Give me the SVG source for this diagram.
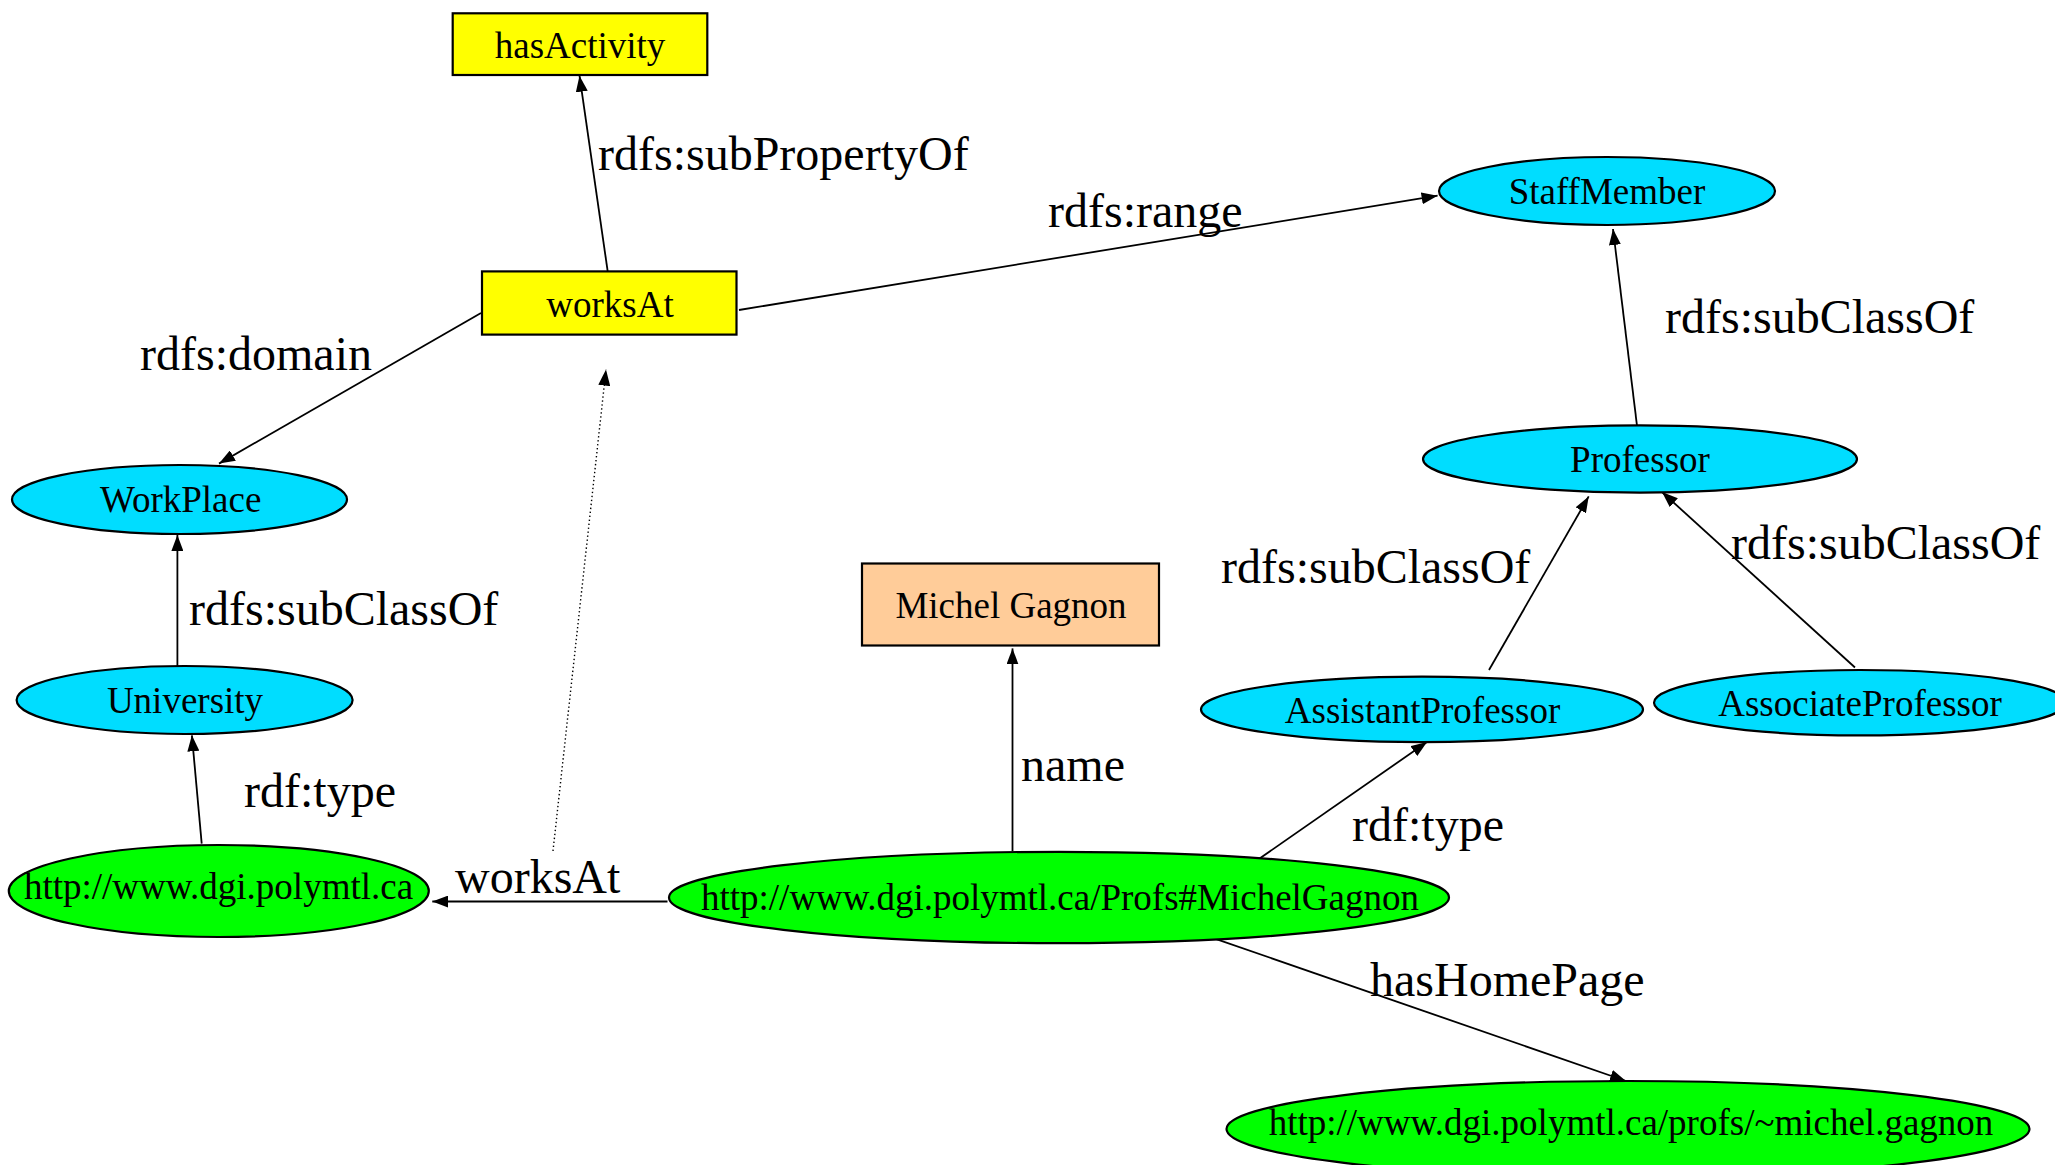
<svg xmlns="http://www.w3.org/2000/svg" width="2055" height="1165" viewBox="0 0 2055 1165">
<style>
text{font-family:"Liberation Serif","Times New Roman",serif;fill:#000}
.nl{font-size:37px;text-anchor:middle}
.el{font-size:48px}
.rect{stroke:#000;stroke-width:2.2}
.ell{stroke:#000;stroke-width:2.2}
.prop{fill:#FFFF00}
.cls{fill:#00DDFF}
.res{fill:#00FF00}
.lit{fill:#FFCC99}
.edge{stroke:#000;stroke-width:1.8;fill:none}
.dot{stroke:#000;stroke-width:1.4;fill:none;stroke-dasharray:1.4 2.6}
</style>
<defs>
<marker id="ah" markerUnits="userSpaceOnUse" markerWidth="16" markerHeight="12" refX="16" refY="6" orient="auto" viewBox="0 0 16 12">
<path d="M0,0 L16,6 L0,12 z" fill="#000"/>
</marker>
</defs>
<rect width="2055" height="1165" fill="#fff"/>
<g id="connectors">
<line class="edge" x1="607.7" y1="271.4" x2="579.5" y2="75.7" marker-end="url(#ah)"/>
<line class="edge" x1="739" y1="310" x2="1437.6" y2="195.7" marker-end="url(#ah)"/>
<line class="edge" x1="481" y1="313" x2="219" y2="463.6" marker-end="url(#ah)"/>
<line class="edge" x1="1637" y1="425.7" x2="1613" y2="229" marker-end="url(#ah)"/>
<line class="edge" x1="177.4" y1="666" x2="177.4" y2="535" marker-end="url(#ah)"/>
<line class="edge" x1="1489" y1="670" x2="1588.7" y2="496.4" marker-end="url(#ah)"/>
<line class="edge" x1="1855" y1="667.5" x2="1662" y2="492" marker-end="url(#ah)"/>
<line class="edge" x1="201.7" y1="843.7" x2="191.9" y2="735.3" marker-end="url(#ah)"/>
<line class="edge" x1="667.5" y1="901.5" x2="432.3" y2="901.5" marker-end="url(#ah)" stroke-width="2.4"/>
<line class="edge" x1="1012.5" y1="851" x2="1012.5" y2="648.4" marker-end="url(#ah)"/>
<line class="edge" x1="1256" y1="861" x2="1427" y2="742" marker-end="url(#ah)"/>
<line class="edge" x1="1209" y1="936.6" x2="1626" y2="1081" marker-end="url(#ah)"/>
<line class="dot" x1="553" y1="851" x2="606" y2="369.6" marker-end="url(#ah)"/>
<text class="el" x="598" y="170">rdfs:subPropertyOf</text>
<text class="el" x="1048" y="227">rdfs:range</text>
<text class="el" x="140" y="370">rdfs:domain</text>
<text class="el" x="1665" y="333">rdfs:subClassOf</text>
<text class="el" x="189" y="625">rdfs:subClassOf</text>
<text class="el" x="1221" y="583">rdfs:subClassOf</text>
<text class="el" x="1731" y="559">rdfs:subClassOf</text>
<text class="el" x="244" y="807">rdf:type</text>
<text class="el" x="455" y="893">worksAt</text>
<text class="el" x="1021" y="781">name</text>
<text class="el" x="1352" y="841">rdf:type</text>
<text class="el" x="1370" y="996">hasHomePage</text>
</g>
<g id="hasActivity"><rect class="rect prop" x="452.7" y="13.3" width="254.6" height="61.7"/><text class="nl" x="580" y="58.3">hasActivity</text></g>
<g id="worksAt"><rect class="rect prop" x="482" y="271.4" width="254.5" height="63.2"/><text class="nl" x="610" y="317">worksAt</text></g>
<g id="StaffMember"><ellipse class="ell cls" cx="1607" cy="191" rx="168" ry="34"/><text class="nl" x="1607" y="204">StaffMember</text></g>
<g id="WorkPlace"><ellipse class="ell cls" cx="179.5" cy="499.5" rx="167.5" ry="34.5"/><text class="nl" x="180.7" y="512">WorkPlace</text></g>
<g id="Professor"><ellipse class="ell cls" cx="1640" cy="459" rx="217" ry="33.6"/><text class="nl" x="1640" y="472">Professor</text></g>
<g id="MichelGagnonLiteral"><rect class="rect lit" x="862" y="563.5" width="297" height="82"/><text class="nl" x="1011" y="618">Michel Gagnon</text></g>
<g id="University"><ellipse class="ell cls" cx="184.6" cy="700" rx="168" ry="34"/><text class="nl" x="185" y="713">University</text></g>
<g id="AssistantProfessor"><ellipse class="ell cls" cx="1422" cy="709.4" rx="221" ry="32.7"/><text class="nl" x="1422.5" y="723">AssistantProfessor</text></g>
<g id="AssociateProfessor"><ellipse class="ell cls" cx="1860" cy="702.7" rx="206" ry="32.7"/><text class="nl" x="1860" y="716">AssociateProfessor</text></g>
<g id="polymtl"><ellipse class="ell res" cx="218.8" cy="891" rx="210" ry="46"/><text class="nl" x="218.5" y="899">http://www.dgi.polymtl.ca</text></g>
<g id="MichelGagnonURI"><ellipse class="ell res" cx="1059" cy="897.5" rx="390" ry="45.7"/><text class="nl" x="1060" y="910">http://www.dgi.polymtl.ca/Profs#MichelGagnon</text></g>
<g id="HomePage"><ellipse class="ell res" cx="1628" cy="1129" rx="401.5" ry="48"/><text class="nl" x="1631" y="1135">http://www.dgi.polymtl.ca/profs/~michel.gagnon</text></g>
</svg>
